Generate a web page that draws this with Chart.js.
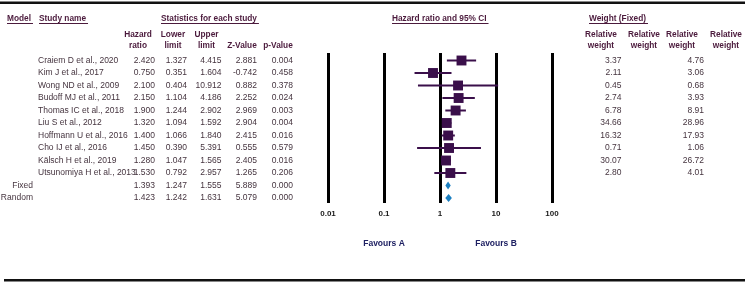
<!DOCTYPE html>
<html>
<head>
<meta charset="utf-8">
<script src="https://cdn.jsdelivr.net/npm/chart.js@4/dist/chart.umd.min.js"></script>
<style>
  body { margin: 0; background: #fff; }
  canvas { display: block; }
</style>
</head>
<body>
<canvas id="forest" width="749" height="285"></canvas>
<script>
// study rows
const studies = ['Craiem D et al., 2020', 'Kim J et al., 2017', 'Wong ND et al., 2009', 'Budoff MJ et al., 2011',
  'Thomas IC et al., 2018', 'Liu S et al., 2012', 'Hoffmann U et al., 2016', 'Cho IJ et al., 2016',
  'Kälsch H et al., 2019', 'Utsunomiya H et al., 2013'];
const hazardRatio = [2.420, 0.750, 2.100, 2.150, 1.900, 1.320, 1.400, 1.450, 1.280, 1.530];
const lowerLimit = [1.327, 0.351, 0.404, 1.104, 1.244, 1.094, 1.066, 0.390, 1.047, 0.792];
const upperLimit = [4.415, 1.604, 10.912, 4.186, 2.902, 1.592, 1.840, 5.391, 1.565, 2.957];
const zValue = [2.881, -0.742, 0.882, 2.252, 2.969, 2.904, 2.415, 0.555, 2.405, 1.265];
const pValue = [0.004, 0.458, 0.378, 0.024, 0.003, 0.004, 0.016, 0.579, 0.016, 0.206];
const weightFixed = [3.37, 2.11, 0.45, 2.74, 6.78, 34.66, 16.32, 0.71, 30.07, 2.80];
const weightRandom = [4.76, 3.06, 0.68, 3.93, 8.91, 28.96, 17.93, 1.06, 26.72, 4.01];

// summary rows
const models = ['Fixed', 'Random'];
const summaryHR = [1.393, 1.423];
const summaryLower = [1.247, 1.242];
const summaryUpper = [1.555, 1.631];
const summaryZ = [5.889, 5.079];
const summaryP = [0.000, 0.000];

const tickValues = [0.01, 0.1, 1, 10, 100];

const HEAD = '#4b1a3c', TXT = '#45343f', SQ = '#3a0f4a', DIA = '#1b7fc1', FAV = '#1f2163';
const nRows = studies.length + models.length;

const datasets = [];
studies.forEach((s, i) => {
  datasets.push({
    type: 'line',
    data: [{x: lowerLimit[i], y: i}, {x: upperLimit[i], y: i}],
    borderColor: SQ, borderWidth: 2, pointRadius: 0, fill: false
  });
});
datasets.push({
  type: 'scatter',
  data: studies.map((s, i) => ({x: hazardRatio[i], y: i})),
  pointStyle: 'rect', pointRadius: 7, backgroundColor: SQ, borderColor: SQ, borderWidth: 0
});

function txt(ctx, s, x, y, align, font, color) {
  ctx.font = font;
  ctx.fillStyle = color;
  ctx.textAlign = align;
  ctx.textBaseline = 'middle';
  ctx.fillText(s, x, y);
}
function underlined(ctx, s, x, y, align, font, color) {
  txt(ctx, s, x, y, align, font, color);
  const w = ctx.measureText(s).width;
  let x0 = align === 'center' ? x - w / 2 : (align === 'right' ? x - w : x);
  ctx.fillRect(x0, y + 4, w + 2, 1);
}

const tablePlugin = {
  id: 'table',
  afterDatasetsDraw(chart) {
    const ctx = chart.ctx, xs = chart.scales.x, ys = chart.scales.y;
    ctx.save();
    ctx.fillStyle = DIA;
    models.forEach((m, k) => {
      const r = studies.length + k;
      const yc = ys.getPixelForValue(r), yt = ys.getPixelForValue(r - 0.32), yb = ys.getPixelForValue(r + 0.32);
      ctx.beginPath();
      ctx.moveTo(xs.getPixelForValue(summaryLower[k]), yc);
      ctx.lineTo(xs.getPixelForValue(summaryHR[k]), yt);
      ctx.lineTo(xs.getPixelForValue(summaryUpper[k]), yc);
      ctx.lineTo(xs.getPixelForValue(summaryHR[k]), yb);
      ctx.closePath();
      ctx.fill();
    });
    ctx.restore();
  },
  afterDraw(chart) {
    const ctx = chart.ctx, ys = chart.scales.y;
    ctx.save();
    // frame lines
    ctx.fillStyle = '#111';
    ctx.fillRect(0, 1.5, 745, 2.5);
    ctx.fillRect(4, 279, 741, 2.5);

    const hb = 'bold 8.3px "Liberation Sans", Arial, sans-serif';
    const rg = '8.5px "Liberation Sans", Arial, sans-serif';
    underlined(ctx, 'Model', 7, 19, 'left', hb, HEAD);
    underlined(ctx, 'Study name', 39, 19, 'left', hb, HEAD);
    underlined(ctx, 'Statistics for each study', 161, 19, 'left', hb, HEAD);
    underlined(ctx, 'Hazard ratio and 95% CI', 392, 19, 'left', hb, HEAD);
    underlined(ctx, 'Weight (Fixed)', 589, 19, 'left', hb, HEAD);

    const heads = [[['Hazard', 'ratio'], 138], [['Lower', 'limit'], 173], [['Upper', 'limit'], 206.5],
      [['', 'Z-Value'], 242], [['', 'p-Value'], 278], [['Relative', 'weight'], 601],
      [['Relative', 'weight'], 644], [['Relative', 'weight'], 682], [['Relative', 'weight'], 726]];
    heads.forEach(([lines, x]) => {
      txt(ctx, lines[0], x, 34.5, 'center', hb, HEAD);
      txt(ctx, lines[1], x, 45.5, 'center', hb, HEAD);
    });

    studies.forEach((s, i) => {
      const y = ys.getPixelForValue(i);
      txt(ctx, s, 38, y, 'left', rg, TXT);
      txt(ctx, hazardRatio[i].toFixed(3), 155, y, 'right', rg, TXT);
      txt(ctx, lowerLimit[i].toFixed(3), 187, y, 'right', rg, TXT);
      txt(ctx, upperLimit[i].toFixed(3), 221.5, y, 'right', rg, TXT);
      txt(ctx, zValue[i].toFixed(3), 257, y, 'right', rg, TXT);
      txt(ctx, pValue[i].toFixed(3), 293, y, 'right', rg, TXT);
      txt(ctx, weightFixed[i].toFixed(2), 621.5, y, 'right', rg, TXT);
      txt(ctx, weightRandom[i].toFixed(2), 704, y, 'right', rg, TXT);
    });
    models.forEach((m, k) => {
      const y = ys.getPixelForValue(studies.length + k);
      txt(ctx, m, 33, y, 'right', rg, TXT);
      txt(ctx, summaryHR[k].toFixed(3), 155, y, 'right', rg, TXT);
      txt(ctx, summaryLower[k].toFixed(3), 187, y, 'right', rg, TXT);
      txt(ctx, summaryUpper[k].toFixed(3), 221.5, y, 'right', rg, TXT);
      txt(ctx, summaryZ[k].toFixed(3), 257, y, 'right', rg, TXT);
      txt(ctx, summaryP[k].toFixed(3), 293, y, 'right', rg, TXT);
    });

    const xs = chart.scales.x;
    const fb = 'bold 8.5px "Liberation Sans", Arial, sans-serif';
    txt(ctx, 'Favours A', xs.getPixelForValue(0.1), 244, 'center', fb, FAV);
    txt(ctx, 'Favours B', xs.getPixelForValue(10), 244, 'center', fb, FAV);
    ctx.restore();
  }
};

new Chart(document.getElementById('forest'), {
  type: 'scatter',
  data: { datasets: datasets },
  options: {
    responsive: false,
    animation: false,
    events: [],
    layout: { padding: { left: 328, right: 197, top: 53, bottom: 62 } },
    plugins: { legend: { display: false }, tooltip: { enabled: false } },
    scales: {
      x: {
        type: 'logarithmic',
        min: tickValues[0],
        max: tickValues[tickValues.length - 1],
        afterBuildTicks: s => { s.ticks = tickValues.map(v => ({ value: v })); },
        afterFit: s => { s.height = 20; },
        grid: { color: '#000', lineWidth: 3, drawTicks: false },
        border: { display: false },
        ticks: {
          padding: 6,
          color: '#1a1a1a',
          font: { family: '"Liberation Sans", Arial, sans-serif', size: 8, weight: 'bold' },
          callback: v => String(v),
          maxRotation: 0, autoSkip: false
        }
      },
      y: {
        display: false,
        reverse: true,
        min: -0.6,
        max: nRows - 0.6
      }
    }
  },
  plugins: [tablePlugin]
});
</script>
</body>
</html>
